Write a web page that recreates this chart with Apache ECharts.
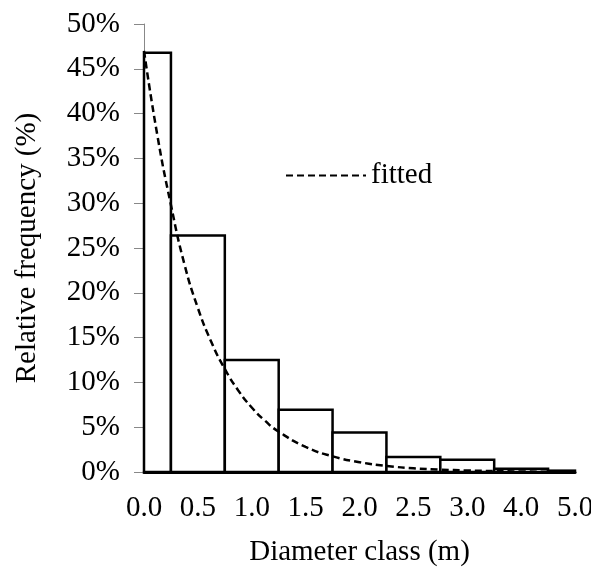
<!DOCTYPE html>
<html>
<head>
<meta charset="utf-8">
<script src="https://cdn.jsdelivr.net/npm/echarts@6/dist/echarts.min.js"></script>
<style>
  html, body { margin: 0; padding: 0; background: #fff; }
  #chart { width: 591px; height: 570px; }
</style>
</head>
<body>
<div id="chart"></div>
<script>
// diameter classes (m) and observed relative frequency (%)
var classes = ['0.0', '0.5', '1.0', '1.5', '2.0', '2.5', '3.0', '4.0', '5.0'];
var freq = [46.8, 26.4, 12.5, 6.95, 4.4, 1.67, 1.37, 0.37, 0.15];

// fitted curve at class positions
var fitPos = [0, 0.25, 0.5, 0.75, 1, 1.25, 1.5, 1.75, 2, 2.25, 2.5, 3, 3.5, 4, 4.5, 5, 5.5, 6, 7, 8];
var fitVal = [47.0, 37.5, 29.8, 23.2, 18.3, 14.5, 11.5, 9.1, 7.2, 5.7, 4.5, 2.8, 1.75, 1.1, 0.68, 0.42, 0.27, 0.17, 0.06, 0.02];

var yTicks = [0, 5, 10, 15, 20, 25, 30, 35, 40, 45, 50];

var barData = freq.map(function (v, i) { return [i, v]; });
var fitData = fitPos.map(function (p, i) { return [p, fitVal[i]]; });

var font = 'Liberation Serif';

// histogram bars: one class wide, centred on the class, cut at the plot edges
function renderBar(params, api) {
  var i = api.value(0);
  var top = api.coord([i, api.value(1)]);
  var base = api.coord([i, 0]);
  var w = api.size([1, 0])[0];
  var cs = params.coordSys;
  var rect = echarts.graphic.clipRectByRect(
    { x: top[0] - w / 2, y: top[1], width: w, height: base[1] - top[1] },
    { x: cs.x, y: cs.y, width: cs.width, height: cs.height }
  );
  if (!rect) return;
  return {
    type: 'rect',
    shape: rect,
    style: { fill: '#fff', stroke: '#000', lineWidth: 2.5 }
  };
}

var option = {
  backgroundColor: '#fff',
  animation: false,
  grid: { left: 144, right: 16, top: 24, bottom: 98, outerBoundsMode: 'none' },
  legend: {
    left: 280,
    top: 156,
    itemWidth: 80,
    itemHeight: 14,
    itemGap: 0,
    itemStyle: { opacity: 0 },
    textStyle: { fontFamily: font, fontSize: 29, color: '#000' },
    data: ['fitted']
  },
  xAxis: [{
    type: 'category',
    data: classes,
    boundaryGap: false,
    name: 'Diameter class (m)',
    nameLocation: 'middle',
    nameGap: 66,
    nameTextStyle: { fontFamily: font, fontSize: 29, color: '#000' },
    axisLine: { lineStyle: { color: '#000', width: 3 } },
    axisTick: { show: false },
    axisLabel: { fontFamily: font, fontSize: 29, color: '#000', margin: 22 },
    splitLine: { show: false }
  }, {
    type: 'value',
    min: 0,
    max: 8,
    show: false
  }],
  yAxis: {
    type: 'value',
    min: 0,
    max: 50,
    interval: 5,
    name: 'Relative frequency (%)',
    nameLocation: 'middle',
    nameGap: 102,
    nameTextStyle: { fontFamily: font, fontSize: 29, color: '#000' },
    axisLine: { show: true, lineStyle: { color: '#888', width: 1 } },
    axisTick: { show: true, length: 10, lineStyle: { color: '#888' } },
    axisLabel: {
      fontFamily: font, fontSize: 29, color: '#000', margin: 24,
      formatter: function (v) { return yTicks.indexOf(v) >= 0 ? v + '%' : ''; }
    },
    splitLine: { show: false }
  },
  series: [{
    name: 'observed',
    type: 'custom',
    renderItem: renderBar,
    encode: { x: 0, y: 1 },
    data: barData
  }, {
    name: 'fitted',
    type: 'line',
    xAxisIndex: 1,
    data: fitData,
    smooth: true,
    symbol: 'none',
    z: 5,
    lineStyle: { color: '#000', width: 2.5, type: [7, 4] },
    itemStyle: { color: '#000' }
  }]
};

var myChart = echarts.init(document.getElementById('chart'));
myChart.setOption(option);
</script>
</body>
</html>
